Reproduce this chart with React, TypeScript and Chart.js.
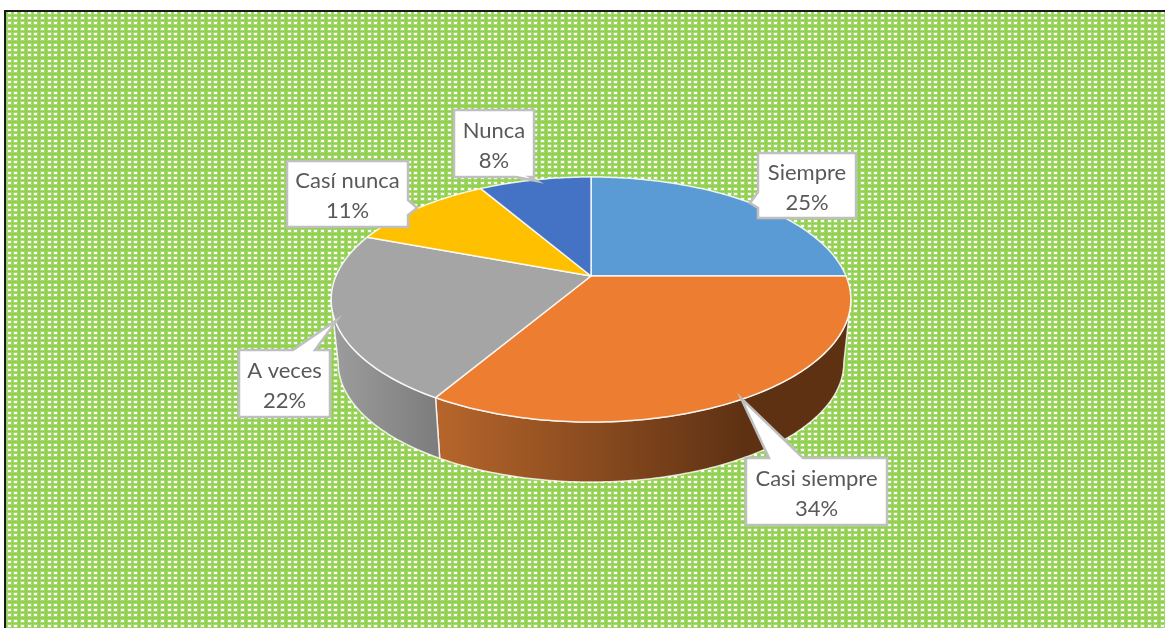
import React, { useEffect, useRef } from "react";
import { Chart, registerables } from "chart.js";

Chart.register(...registerables);

// ---- data ----
const categories = ["Siempre", "Casi siempre", "A veces", "Casí nunca", "Nunca"];
const values = [25, 33.5, 22.2, 10.9, 8.4];
const percentLabels = ["25%", "34%", "22%", "11%", "8%"];
const sliceColors = ["#5B9BD5", "#ED7D31", "#A5A5A5", "#FFC000", "#4472C4"];

// ---- layout of the perspective pie ----
const PIE = { cx: 591, apexY: 276, a: 255, c: 118, b: -0.1918, bottomApexY: 340, bottomScale: 0.973 };

// callout boxes: [x0, y0, x1, y1], side of the pointer, base start/end along the side, tip
const callouts = [
  { box: [758, 153, 856, 218], side: "left", base: [192, 208], tip: [750, 203] },
  { box: [746, 458, 887, 525], side: "top", base: [769, 803], tip: [741, 398] },
  { box: [239, 350, 330, 417], side: "top", base: [293, 315], tip: [337, 320] },
  { box: [287, 161, 408, 227], side: "right", base: [200, 215], tip: [417, 208] },
  { box: [454, 110, 534, 177], side: "bottom", base: [516, 530], tip: [537, 181] },
];

function rim(a: number, bottom = false): [number, number] {
  const u = Math.cos(a);
  const v = Math.sin(a);
  const d = 1 + PIE.b * v;
  const s = bottom ? PIE.bottomScale : 1;
  const y0 = bottom ? PIE.bottomApexY : PIE.apexY;
  return [PIE.cx + (s * PIE.a * u) / d, y0 + (s * PIE.c * v) / d];
}

function traceRim(ctx: CanvasRenderingContext2D, a1: number, a2: number, bottom = false, move = false) {
  const steps = Math.max(2, Math.ceil(Math.abs(a2 - a1) * 60));
  for (let i = 0; i <= steps; i++) {
    const p = rim(a1 + ((a2 - a1) * i) / steps, bottom);
    if (i === 0 && move) ctx.moveTo(p[0], p[1]);
    else ctx.lineTo(p[0], p[1]);
  }
}

function makePattern(ctx: CanvasRenderingContext2D) {
  const t = document.createElement("canvas");
  t.width = 20;
  t.height = 16;
  const c = t.getContext("2d")!;
  c.fillStyle = "#92D050";
  c.fillRect(0, 0, 20, 16);
  [1, 8, 14].forEach((x) => {
    [1, 6, 12].forEach((y) => {
      c.fillStyle = "rgba(255,255,255,0.18)";
      c.fillRect(x - 1, y - 1, 5, 4);
      c.fillStyle = "#FFFFFF";
      c.fillRect(x, y, 3, 2);
    });
  });
  return ctx.createPattern(t, "repeat")!;
}

const pie3d = {
  id: "pie3d",
  beforeDraw(chart: any) {
    const ctx = chart.ctx as CanvasRenderingContext2D;
    ctx.save();
    ctx.fillStyle = "#FFFFFF";
    ctx.fillRect(0, 0, 1165, 628);
    ctx.fillStyle = makePattern(ctx);
    ctx.fillRect(5, 11, 1160, 617);
    ctx.fillStyle = "#1A1A1A";
    ctx.fillRect(4, 10, 1161, 2);
    ctx.fillRect(4, 10, 2, 618);
    ctx.restore();
  },
  beforeDatasetDraw(chart: any, args: any) {
    const ctx = chart.ctx as CanvasRenderingContext2D;
    const arcs = chart.getDatasetMeta(args.index).data;
    const wallFrom = Math.asin(-PIE.b);
    const wallTo = Math.PI - wallFrom;
    ctx.save();
    ctx.lineJoin = "round";
    // side walls
    const walls: Record<number, [string, string, number, number]> = {
      1: ["#B5652B", "#5E3113", 442, 745],
      2: ["#9C9C9C", "#7B7B7B", 335, 442],
    };
    arcs.forEach((arc: any, i: number) => {
      const w = walls[i];
      if (!w) return;
      const a1 = Math.max(arc.startAngle, wallFrom);
      const a2 = Math.min(arc.endAngle, wallTo);
      if (a2 <= a1) return;
      const g = ctx.createLinearGradient(w[2], 0, w[3], 0);
      g.addColorStop(0, w[0]);
      g.addColorStop(1, w[1]);
      ctx.beginPath();
      traceRim(ctx, a1, a2, false, true);
      traceRim(ctx, a2, a1, true);
      ctx.closePath();
      ctx.fillStyle = g;
      ctx.fill();
      ctx.strokeStyle = "rgba(255,255,255,0.8)";
      ctx.lineWidth = 1.5;
      ctx.stroke();
    });
    // top faces
    arcs.forEach((arc: any) => {
      ctx.beginPath();
      ctx.moveTo(PIE.cx, PIE.apexY);
      traceRim(ctx, arc.startAngle, arc.endAngle);
      ctx.closePath();
      ctx.fillStyle = arc.options.backgroundColor;
      ctx.fill();
      ctx.strokeStyle = "rgba(255,255,255,0.85)";
      ctx.lineWidth = 1.5;
      ctx.stroke();
    });
    ctx.restore();
    return false;
  },
  afterDraw(chart: any) {
    const ctx = chart.ctx as CanvasRenderingContext2D;
    ctx.save();
    callouts.forEach((c, i) => {
      const [x0, y0, x1, y1] = c.box;
      ctx.beginPath();
      ctx.moveTo(x0, y0);
      if (c.side === "top") {
        ctx.lineTo(c.base[0], y0);
        ctx.lineTo(c.tip[0], c.tip[1]);
        ctx.lineTo(c.base[1], y0);
      }
      ctx.lineTo(x1, y0);
      if (c.side === "right") {
        ctx.lineTo(x1, c.base[0]);
        ctx.lineTo(c.tip[0], c.tip[1]);
        ctx.lineTo(x1, c.base[1]);
      }
      ctx.lineTo(x1, y1);
      if (c.side === "bottom") {
        ctx.lineTo(c.base[1], y1);
        ctx.lineTo(c.tip[0], c.tip[1]);
        ctx.lineTo(c.base[0], y1);
      }
      ctx.lineTo(x0, y1);
      if (c.side === "left") {
        ctx.lineTo(x0, c.base[1]);
        ctx.lineTo(c.tip[0], c.tip[1]);
        ctx.lineTo(x0, c.base[0]);
      }
      ctx.closePath();
      ctx.fillStyle = "#FFFFFF";
      ctx.fill();
      ctx.strokeStyle = "#BFBFBF";
      ctx.lineWidth = 2.5;
      ctx.stroke();
      const mx = (x0 + x1) / 2;
      const my = (y0 + y1) / 2;
      ctx.fillStyle = "#595959";
      ctx.font = '22px Lato, "Open Sans", sans-serif';
      ctx.textAlign = "center";
      ctx.textBaseline = "middle";
      ctx.fillText(categories[i], mx, my - 13);
      ctx.fillText(percentLabels[i], mx, my + 17);
    });
    ctx.restore();
  },
};

export default function App() {
  const ref = useRef<HTMLCanvasElement>(null);
  useEffect(() => {
    document.body.style.margin = "0";
    const chart = new Chart(ref.current!, {
      type: "pie",
      data: {
        labels: categories,
        datasets: [{ data: values, backgroundColor: sliceColors, borderColor: "#FFFFFF", borderWidth: 1 }],
      },
      options: {
        responsive: false,
        animation: false,
        devicePixelRatio: 1,
        plugins: { legend: { display: false }, tooltip: { enabled: false }, title: { display: false } },
      },
      plugins: [pie3d as any],
    });
    return () => chart.destroy();
  }, []);
  return <canvas ref={ref} width={1165} height={628} style={{ display: "block", width: 1165, height: 628 }} />;
}
